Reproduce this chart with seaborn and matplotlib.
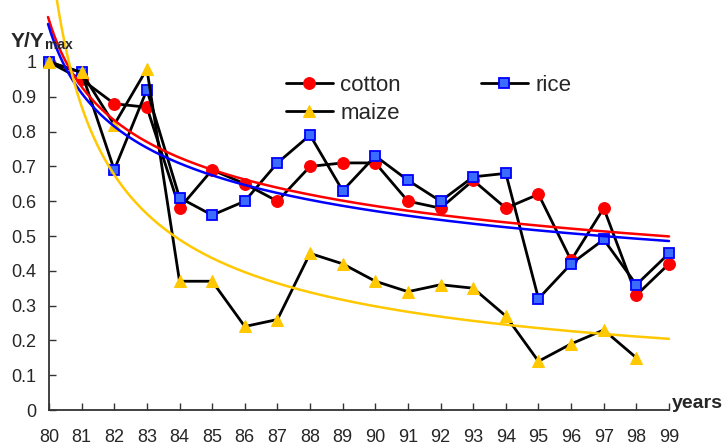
import numpy as np
import pandas as pd
import matplotlib
matplotlib.use("Agg")
import matplotlib.pyplot as plt
import seaborn as sns

years = list(range(80, 100))
cotton = [1.00, 0.95, 0.88, 0.87, 0.58, 0.69, 0.65, 0.60, 0.70, 0.71,
          0.71, 0.60, 0.58, 0.66, 0.58, 0.62, 0.43, 0.58, 0.33, 0.42]
rice = [1.00, 0.97, 0.69, 0.92, 0.61, 0.56, 0.60, 0.71, 0.79, 0.63,
        0.73, 0.66, 0.60, 0.67, 0.68, 0.32, 0.42, 0.49, 0.36, 0.45]
maize = [1.00, 0.97, 0.82, 0.98, 0.37, 0.37, 0.24, 0.26, 0.45, 0.42,
         0.37, 0.34, 0.36, 0.35, 0.27, 0.14, 0.19, 0.23, 0.15, np.nan]
# power trendline coefficients y = a * t^b (t = 1 for year 80)
trend_a = {"cotton": 1.12, "rice": 1.10, "maize": 1.35}
trend_b = {"cotton": -0.27, "rice": -0.273, "maize": -0.63}
y_ticks = [0, 0.1, 0.2, 0.3, 0.4, 0.5, 0.6, 0.7, 0.8, 0.9, 1]
y_tick_labels = ["0", "0.1", "0.2", "0.3", "0.4", "0.5", "0.6", "0.7", "0.8", "0.9", "1"]

sns.set_style("white")
plt.rcParams["font.family"] = ["Liberation Sans", "DejaVu Sans"]

W, H = 724, 448
fig = plt.figure(figsize=(W / 100, H / 100), dpi=100)
step = 620 / 19.0
x0, x1 = 79.5, 100.5
left_px = 49 - 0.5 * step
right_px = 669 + 1.5 * step
ymax = 410 / 348.0
ax = fig.add_axes([left_px / W, 38 / H, (right_px - left_px) / W, 410 / H])

df = pd.DataFrame({"year": years, "cotton": cotton, "rice": rice, "maize": maize})

styles = {
    "cotton": dict(marker="o", markerfacecolor="#ff0000", markeredgecolor="#ff0000", markersize=8.5),
    "rice": dict(marker="s", markerfacecolor="#3a6cff", markeredgecolor="#0000ff", markersize=7.5, markeredgewidth=1.3),
    "maize": dict(marker="^", markerfacecolor="#ffc800", markeredgecolor="#ffc800", markersize=9),
}
for name in ["cotton", "rice", "maize"]:
    sub = df[["year", name]].dropna()
    sns.lineplot(data=sub, x="year", y=name, ax=ax, color="black", linewidth=2.0,
                 label=name, zorder=3, **styles[name])

trend_colors = {"cotton": "#ff0000", "rice": "#0000ff", "maize": "#ffc800"}
t = np.linspace(0.97, 20, 400)
for name in ["cotton", "rice", "maize"]:
    yy = trend_a[name] * t ** trend_b[name]
    sns.lineplot(x=t + 79, y=yy, ax=ax, color=trend_colors[name], linewidth=1.8,
                 zorder=4, legend=False, sort=False)

ax.set_xlim(x0, x1)
ax.set_ylim(0, ymax)
ax.set_xlabel("")
ax.set_ylabel("")

for s in ["top", "right"]:
    ax.spines[s].set_visible(False)
for s in ["left", "bottom"]:
    ax.spines[s].set_color("#333333")
    ax.spines[s].set_linewidth(1.3)
ax.spines["left"].set_position(("data", 80))
ax.spines["left"].set_bounds(0, 1)
ax.spines["bottom"].set_bounds(80, 99)

ax.set_xticks(years)
ax.set_xticklabels([str(y) for y in years])
ax.set_yticks(y_ticks)
ax.set_yticklabels(y_tick_labels)
ax.tick_params(axis="x", direction="in", length=5, width=1, color="#333333",
               labelsize=13, pad=14, bottom=True)
ax.tick_params(axis="y", direction="in", length=5, width=1, color="#333333",
               labelsize=13, pad=9, left=True)

h, l = ax.get_legend_handles_labels()
order = [l.index("cotton"), l.index("maize"), l.index("rice")]
ax.legend([h[i] for i in order], [l[i] for i in order], ncol=2, frameon=False,
          fontsize=16, handlelength=2.1, handletextpad=0.35, columnspacing=3.6,
          labelspacing=0.3, borderpad=0, borderaxespad=0,
          loc="upper left", bbox_to_anchor=(286 / W, 1 - 75 / H),
          bbox_transform=fig.transFigure)

fig.text(11 / W, 1 - 47 / H, "Y/Y", fontsize=15, fontweight="bold", va="baseline", ha="left")
fig.text(45 / W, 1 - 49 / H, "max", fontsize=10, fontweight="bold", va="baseline", ha="left")
fig.text(672 / W, 1 - 408 / H, "years", fontsize=14, fontweight="bold", va="baseline", ha="left")

fig.savefig("out.png", dpi=100)
